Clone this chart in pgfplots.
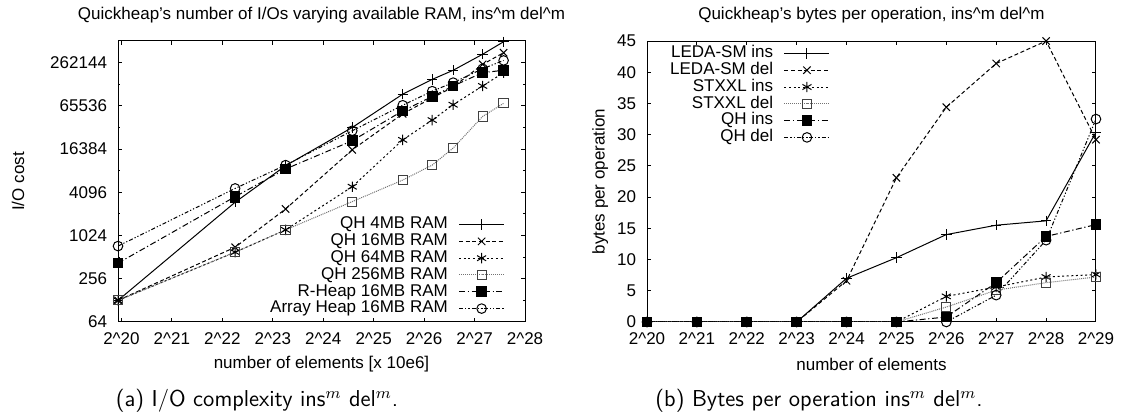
\documentclass[border=0pt]{standalone}
\usepackage{fontspec}
\setmainfont{Liberation Sans}
\usepackage{pgfplots}
\pgfplotsset{compat=1.18}

\newcommand{\gpfont}{\fontsize{8.5bp}{10bp}\selectfont}

\pgfplotsset{
  gp/.style={
    scale only axis, height=140.5bp, anchor=south west,
    axis line style={line width=0.5bp},
    every tick/.style={black, line width=0.5bp},
    major tick length=2.2bp, minor tick length=1.2bp, tick align=inside,
    tick label style={font=\gpfont},
    yticklabel style={xshift=-2bp},
    xticklabel style={yshift=-2bp},
    label style={font=\gpfont},
    title style={font=\gpfont, at={(axis description cs:0.5,1)}, anchor=center, yshift=7bp},
    xlabel style={at={(axis description cs:0.5,0)}, anchor=center, yshift=-21bp},
    legend style={draw=none, fill=none, inner sep=0pt, font=\gpfont,
      nodes={inner sep=0.4bp, text height=6bp, text depth=1.6bp},
      column sep=5bp},
    legend cell align=right, legend plot pos=right,
    legend image code/.code={\draw[mark repeat=2,mark phase=2,##1]
      plot coordinates {(0bp,0bp) (11.25bp,0bp) (22.5bp,0bp)};},
  },
  s1/.style={black, line width=0.5bp, solid, mark=+, mark size=2.6bp, mark options={solid}},
  s2/.style={black, line width=0.5bp, dash pattern=on 2bp off 1.3bp, mark=x, mark size=2.6bp, mark options={solid}},
  s3/.style={black, line width=0.5bp, dash pattern=on 1bp off 1.3bp, mark=asterisk, mark size=2.6bp, mark options={solid}},
  s4/.style={black!55, line width=0.5bp, dash pattern=on 0.5bp off 0.5bp, mark=square, mark size=2.3bp, mark options={solid, black!75}},
  s5/.style={black, line width=0.5bp, dash pattern=on 3bp off 1.3bp on 0.6bp off 1.3bp, mark=square*, mark size=2.4bp, mark options={solid}},
  s6/.style={black, line width=0.5bp, dash pattern=on 2bp off 1bp on 0.6bp off 1bp on 0.6bp off 1bp, mark=o, mark size=2.4bp, mark options={solid}},
}

\begin{document}
\begin{tikzpicture}
\path[use as bounding box] (0,0) rectangle (560.5bp,207.5bp);

\begin{axis}[gp,
  at={(59bp,46.5bp)}, width=203.5bp,
  xmode=log, log basis x=2, ymode=log, log basis y=2,
  xmin=1000000, xmax=268435456, ymin=64, ymax=524288,
  xtick={1048576,2097152,4194304,8388608,16777216,33554432,67108864,134217728,268435456},
  xticklabels={2\textasciicircum20,2\textasciicircum21,2\textasciicircum22,2\textasciicircum23,2\textasciicircum24,2\textasciicircum25,2\textasciicircum26,2\textasciicircum27,2\textasciicircum28},
  xminorticks=false, yminorticks=false,
  ytick={64,256,1024,4096,16384,65536,262144},
  yticklabels={64,256,1024,4096,16384,65536,262144},
  extra y ticks={128,512,2048,8192,32768,131072},
  extra y tick labels={},
  extra y tick style={major tick length=1.2bp},
  title={Quickheap's number of I/Os varying available RAM, ins\textasciicircum m del\textasciicircum m},
  xlabel={number of elements [x 10e6]},
  ylabel={I/O cost},
  ylabel style={at={(axis description cs:-0.2457,0.5)}, anchor=center},
  legend style={at={(1,0)}, anchor=south east, xshift=-10bp, yshift=2.3bp},
]
\addplot[s1] coordinates {(1000000,128) (5000000,2980) (10000000,9600) (25000000,32768) (50000000,95300) (75000000,153000) (100000000,205000) (150000000,343000) (200000000,512000)};
\addplot[s2] coordinates {(1000000,128) (5000000,704) (10000000,2400) (25000000,16000) (50000000,50700) (75000000,84600) (100000000,120000) (150000000,248000) (200000000,360000)};
\addplot[s3] coordinates {(1000000,128) (5000000,600) (10000000,1228) (25000000,4900) (50000000,22000) (75000000,41500) (100000000,67900) (150000000,124000) (200000000,190000)};
\addplot[s4] coordinates {(1000000,128) (5000000,600) (10000000,1228) (25000000,3040) (50000000,6070) (75000000,9800) (100000000,16900) (150000000,46700) (200000000,71000)};
\addplot[s5] coordinates {(1000000,422) (5000000,3560) (10000000,8650) (25000000,21400) (50000000,55800) (75000000,88300) (100000000,124000) (150000000,190000) (200000000,205000)};
\addplot[s6] coordinates {(1000000,730) (5000000,4640) (10000000,9800) (25000000,29500) (50000000,66800) (75000000,105000) (100000000,138000) (150000000,215000) (200000000,281000)};
\legend{QH 4MB RAM,QH 16MB RAM,QH 64MB RAM,QH 256MB RAM,R-Heap 16MB RAM,Array Heap 16MB RAM}
\end{axis}

\begin{axis}[gp,
  at={(323.5bp,46.5bp)}, width=224.5bp,
  xmin=20, xmax=29, ymin=0, ymax=45,
  xtick={20,...,29},
  xticklabels={2\textasciicircum20,2\textasciicircum21,2\textasciicircum22,2\textasciicircum23,2\textasciicircum24,2\textasciicircum25,2\textasciicircum26,2\textasciicircum27,2\textasciicircum28,2\textasciicircum29},
  ytick={0,5,...,45},
  yticklabel style={/pgf/number format/assume math mode=true},
  title={Quickheap's bytes per operation, ins\textasciicircum m del\textasciicircum m},
  xlabel={number of elements},
  ylabel={bytes per operation},
  ylabel style={at={(axis description cs:-0.1044,0.5)}, anchor=center},
  legend style={at={(0,1)}, anchor=north west, xshift=11bp, yshift=-1.8bp},
]
\addplot[s1] coordinates {(20,0) (21,0) (22,0) (23,0) (24,7.0) (25,10.3) (26,14.0) (27,15.5) (28,16.2) (29,30.4)};
\addplot[s2] coordinates {(20,0) (21,0) (22,0) (23,0) (24,6.6) (25,23.1) (26,34.4) (27,41.4) (28,45.0) (29,29.2)};
\addplot[s3] coordinates {(20,0) (21,0) (22,0) (23,0) (24,0) (25,0) (26,4.1) (27,5.6) (28,7.2) (29,7.6)};
\addplot[s4] coordinates {(20,0) (21,0) (22,0) (23,0) (24,0) (25,0) (26,2.4) (27,5.1) (28,6.3) (29,7.2)};
\addplot[s5] coordinates {(20,0) (21,0) (22,0) (23,0) (24,0) (25,0) (26,0.8) (27,6.3) (28,13.7) (29,15.6)};
\addplot[s6] coordinates {(20,0) (21,0) (22,0) (23,0) (24,0) (25,0) (26,0.0) (27,4.3) (28,13.1) (29,32.5)};
\legend{LEDA-SM ins,LEDA-SM del,STXXL ins,STXXL del,QH ins,QH del}
\end{axis}

\node[font=\sffamily\fontsize{11.5bp}{13bp}\selectfont] at (128.5bp,7bp) {(a) I/O complexity ins$^m$ del$^m$.};
\node[font=\sffamily\fontsize{11.5bp}{13bp}\selectfont] at (409.5bp,7bp) {(b) Bytes per operation ins$^m$ del$^m$.};
\end{tikzpicture}
\end{document}
